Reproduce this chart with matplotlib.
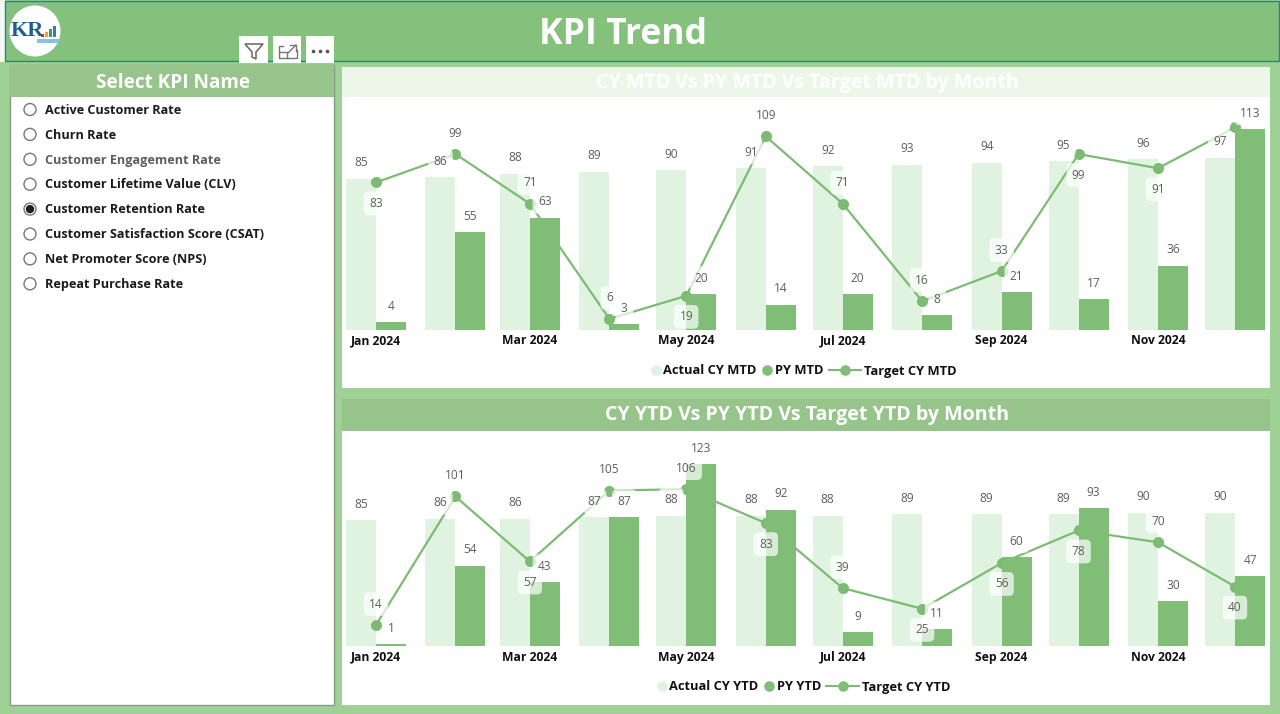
import datetime as dt

import matplotlib
matplotlib.use("Agg")
import matplotlib.dates as mdates
import matplotlib.pyplot as plt
from matplotlib.patches import Circle, Polygon, Rectangle

plt.rcParams["font.family"] = ["Open Sans", "DejaVu Sans"]

months = [dt.date(2024, m, 1) for m in range(1, 13)]
tick_months = months[::2]

# top chart
actual_mtd = [85, 86, 88, 89, 90, 91, 92, 93, 94, 95, 96, 97]
py_mtd = [4, 55, 63, 3, 20, 14, 20, 8, 21, 17, 36, 113]
target_mtd = [83, 99, 71, 6, 19, 109, 71, 16, 33, 99, 91, 114]
# 1 = label above the point, -1 = below, 0 = no label
target_mtd_side = [-1, 1, 1, 1, -1, 1, 1, 1, 1, -1, -1, 0]

# bottom chart
actual_ytd = [85, 86, 86, 87, 88, 88, 88, 89, 89, 89, 90, 90]
py_ytd = [1, 54, 43, 87, 123, 92, 9, 11, 60, 93, 30, 47]
target_ytd = [14, 101, 57, 105, 106, 83, 39, 25, 56, 78, 70, 40]
target_ytd_side = [1, 1, -1, 1, 1, -1, 1, -1, -1, -1, 1, -1]

kpi_names = ["Active Customer Rate", "Churn Rate", "Customer Engagement Rate",
             "Customer Lifetime Value (CLV)", "Customer Retention Rate",
             "Customer Satisfaction Score (CSAT)", "Net Promoter Score (NPS)",
             "Repeat Purchase Rate"]
selected_kpi = "Customer Retention Rate"

HEADER = "#84C17C"
PAGE = "#9FD096"
BAND = "#96C48A"
LIGHT = "#E0F3E0"
DARK = "#80BE78"
LABEL = "#605E5C"

W, H = 1280, 714
PX_PER_DAY = 859 / 335
BAR_DAYS = 30 / PX_PER_DAY

fig = plt.figure(figsize=(W / 100, H / 100), dpi=100, facecolor=PAGE)

# page furniture is drawn in pixel coordinates
bg = fig.add_axes([0, 0, 1, 1])
bg.set_xlim(0, W)
bg.set_ylim(H, 0)
bg.axis("off")


def box(x0, y0, x1, y1, color, **kw):
    bg.add_patch(Rectangle((x0, y0), x1 - x0, y1 - y0, facecolor=color, **kw))


box(0, 0, 5, 62, "#F4F8F4", lw=0)
box(5, 1, 1279, 61, HEADER, edgecolor="#2F7F8F", lw=1)
bg.text(623, 35, "KPI Trend", color="white", fontsize=25.6, fontweight="bold", ha="center", va="center")

# logo
bg.add_patch(Circle((35, 31), 25.5, facecolor="white", lw=0))
bg.text(27, 31, "KR", color="#1F5F8B", fontsize=16, fontweight="bold", ha="center", va="center", family="Liberation Serif")
for bx, bh, bc in [(41, 3, "#C0392B"), (45, 5, "#E6A23C"), (49, 8, "#3F9E5A"), (53, 11, "#2F7FB5")]:
    box(bx, 37 - bh, bx + 3, 37, bc, lw=0)
box(37, 39, 59, 43, "#7CC4E8", lw=0)

# visual header icons
for x0, x1 in [(239, 268), (273, 301), (306, 334)]:
    box(x0, 36, x1, 63, "white", lw=0)
bg.add_patch(Polygon([(245, 44), (263, 44), (256, 52), (256, 59), (252, 57), (252, 52)], closed=True,
                     facecolor="none", edgecolor="#666666", lw=1.1))
bg.plot([283, 279, 279, 297, 297], [46, 46, 58, 58, 50], color="#777777", lw=1)
bg.plot([279, 287, 287], [52, 52, 58], color="#777777", lw=1)
bg.plot([290, 296, 296], [45, 45, 51], color="#777777", lw=1)
bg.plot([288, 296], [53, 45], color="#777777", lw=1)
bg.plot([313, 320, 327], [51, 51, 51], ls="none", marker="o", ms=1.6, color="#555555")

# slicer
box(10, 65, 334, 705, "white", edgecolor="#8A9A88", lw=1)
box(10, 65, 334, 97, BAND, lw=0)
bg.text(173, 82.5, "Select KPI Name", color="white", fontsize=13.7, fontweight="bold", ha="center", va="center")
for i, name in enumerate(kpi_names):
    y = 109.5 + i * 24.9
    bg.add_patch(Circle((30, y), 6, facecolor="white", edgecolor="#777777", lw=1))
    if name == selected_kpi:
        bg.add_patch(Circle((30, y), 4.2, facecolor="#201F1E", lw=0))
    color = "#605E5C" if name == "Customer Engagement Rate" else "#1B1B1B"
    bg.text(45, y + 0.8, name, color=color, fontsize=9.05, fontweight="bold", va="center")

# chart panels
box(342, 67, 1270, 388, "white", lw=0)
box(342, 67, 1270, 97, "#EDF7E9", lw=0)
bg.text(807, 83, "CY MTD Vs PY MTD Vs Target MTD by Month", color="white", fontsize=14.1, fontweight="bold",
        ha="center", va="center")
box(342, 399, 1270, 705, "white", lw=0)
box(342, 399, 1270, 431, BAND, lw=0)
bg.text(807, 415, "CY YTD Vs PY YTD Vs Target YTD by Month", color="white", fontsize=14.1, fontweight="bold",
        ha="center", va="center")


def value_label(ax, x, y, value, dy_px, zorder=6):
    # dy_px is the pixel offset of the label centre, offset points at dpi 100
    ax.annotate(str(value), (x, y), xytext=(0, dy_px * 0.72), textcoords="offset points",
                ha="center", va="center", fontsize=8.6, color=LABEL, zorder=zorder,
                bbox=dict(boxstyle="round,pad=0.45,rounding_size=0.4", facecolor="white", edgecolor="none", alpha=0.7))


def draw_chart(top_px, base_px, px_per_unit, actual, py, target, side):
    left_px, right_px = 343, 1270
    ax = fig.add_axes([left_px / W, 1 - base_px / H, (right_px - left_px) / W, (base_px - top_px) / H])
    ax.patch.set_alpha(0)
    jan = mdates.date2num(months[0])
    ax.set_xlim(jan - (376 - left_px) / PX_PER_DAY, jan + (right_px - 376) / PX_PER_DAY)
    ax.set_ylim(0, (base_px - top_px) / px_per_unit)
    for s in ax.spines.values():
        s.set_visible(False)
    ax.yaxis.set_visible(False)
    ax.xaxis_date()
    ax.set_xticks(mdates.date2num(tick_months))
    ax.xaxis.set_major_formatter(mdates.DateFormatter("%b %Y"))
    ax.tick_params(axis="x", length=0, pad=3.5)
    for t in ax.get_xticklabels():
        t.set_fontsize(8.7)
        t.set_fontweight("bold")
        t.set_color("#111111")

    xs = mdates.date2num(months)
    ax.bar(xs - BAR_DAYS / 2, actual, width=BAR_DAYS, color=LIGHT, zorder=1)
    ax.plot(xs, target, color="#7DBB75", lw=1.6, marker="o", ms=8, mew=0, zorder=2, clip_on=False)
    ax.bar(xs + BAR_DAYS / 2, py, width=BAR_DAYS, color=DARK, zorder=3)

    for i, x in enumerate(xs):
        value_label(ax, x - BAR_DAYS / 2, actual[i], actual[i], 16)
        value_label(ax, x + BAR_DAYS / 2, py[i], py[i], 16)
        if side[i]:
            value_label(ax, x, target[i], target[i], 21 * side[i], zorder=7)
    return ax


draw_chart(97, 329.5, 1.772, actual_mtd, py_mtd, target_mtd, target_mtd_side)
draw_chart(431, 645.7, 181.7 / 123, actual_ytd, py_ytd, target_ytd, target_ytd_side)


def legend_row(y, dot1, text1, dot2, text2, line_x, text3, names):
    legend_font = dict(fontsize=9.3, fontweight="bold", color="#111111", va="center")
    bg.plot([dot1], [y], marker="o", ms=7.6, mew=0, color=LIGHT)
    bg.text(text1, y + 1, names[0], **legend_font)
    bg.plot([dot2], [y], marker="o", ms=7.6, mew=0, color=DARK)
    bg.text(text2, y + 1, names[1], **legend_font)
    bg.plot(line_x, [y, y], color="#7DBB75", lw=1.5)
    bg.plot([sum(line_x) / 2], [y], marker="o", ms=7.6, mew=0, color=DARK)
    bg.text(text3, y + 1, names[2], **legend_font)


legend_row(370, 656, 663, 767, 775, (829, 861), 864, ["Actual CY MTD", "PY MTD", "Target CY MTD"])
legend_row(686, 662, 669, 769, 777, (826, 859), 862, ["Actual CY YTD", "PY YTD", "Target CY YTD"])

fig.savefig("out.png", dpi=100, facecolor=fig.get_facecolor())
